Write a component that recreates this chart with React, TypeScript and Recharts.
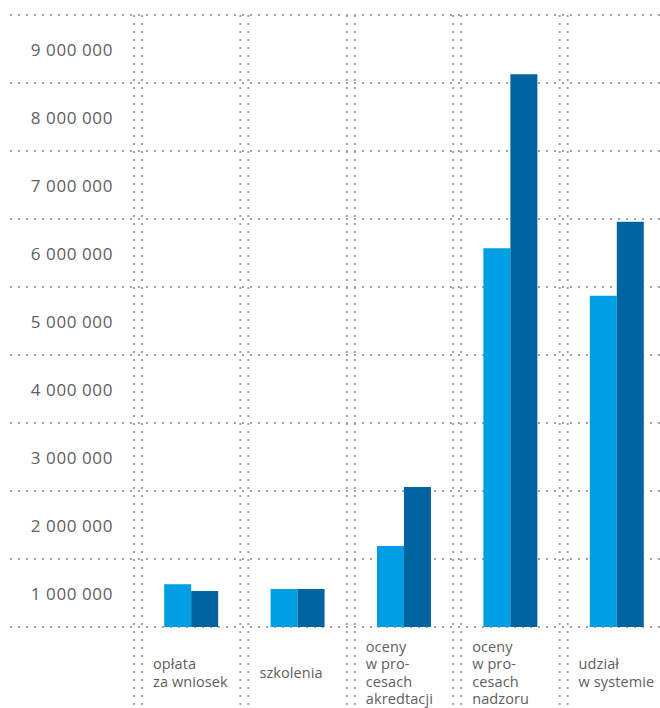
import React from "react";
import { BarChart, Bar, XAxis, YAxis, CartesianGrid } from "recharts";

// categories (line breaks as in the original labels)
const categories = [
  "opłata\nza wniosek",
  "szkolenia",
  "oceny\nw pro-\ncesach\nakredtacji",
  "oceny\nw pro-\ncesach\nnadzoru",
  "udział\nw systemie",
];
const lightValues = [630000, 560000, 1190000, 5570000, 4870000];
const darkValues = [530000, 560000, 2060000, 8130000, 5960000];
const yTicks = [0, 1000000, 2000000, 3000000, 4000000, 5000000, 6000000, 7000000, 8000000, 9000000];

const data = categories.map((name, i) => ({ name, light: lightValues[i], dark: darkValues[i] }));

const W = 670;
const H = 708;
const TOP = 15;
const LEFT = 138;
const BOTTOM = 81;
const PLOT_H = H - TOP - BOTTOM;
const BAND = (W - LEFT) / categories.length;
const GRID = "#a3a3a3";
const TEXT = "#606060";
const FONT = "'Open Sans', sans-serif";

const fmt = (v: number) => String(v).replace(/\B(?=(\d{3})+(?!\d))/g, " ");

const dotted = { stroke: GRID, strokeWidth: 2, strokeDasharray: "2 6" };

function YTick(props: any) {
  const { y, payload } = props;
  return (
    <g>
      <line x1={10} x2={134} y1={y} y2={y} {...dotted} />
      {payload.value > 0 && (
        <text
          x={113}
          y={y + PLOT_H / 18}
          textAnchor="end"
          dominantBaseline="central"
          fill={TEXT}
          fontSize={17}
          fontFamily={FONT}
          letterSpacing={0.6}
        >
          {fmt(payload.value)}
        </text>
      )}
    </g>
  );
}

function XTick(props: any) {
  const { x, payload } = props;
  const left = x - BAND / 2;
  const lines = String(payload.value).split("\n");
  return (
    <g>
      {[-4, 4].map((d) => (
        <line key={d} x1={left + d} x2={left + d} y1={TOP} y2={H} {...dotted} />
      ))}
      <text fill={TEXT} fontSize={14.5} fontFamily={FONT} letterSpacing={0.1}>
        {lines.map((l, i) => (
          <tspan key={i} x={left + 15} y={678 + (i - (lines.length - 1) / 2) * 17.5}>
            {l}
          </tspan>
        ))}
      </text>
    </g>
  );
}

export default function App() {
  return (
    <div style={{ position: "absolute", left: 0, top: 0, width: 660, height: 708, overflow: "hidden", background: "#fff" }}>
      <BarChart
        width={W}
        height={H}
        data={data}
        margin={{ top: TOP, right: 0, left: 0, bottom: 0 }}
        barGap={0}
        barCategoryGap="24.6%"
      >
        <CartesianGrid vertical={false} {...dotted} />
        <XAxis
          dataKey="name"
          height={BOTTOM}
          axisLine={false}
          tickLine={false}
          interval={0}
          tick={<XTick />}
        />
        <YAxis
          width={LEFT}
          domain={[0, 9000000]}
          ticks={yTicks}
          interval={0}
          axisLine={false}
          tickLine={false}
          tick={<YTick />}
        />
        <Bar dataKey="light" fill="#009fe3" isAnimationActive={false} />
        <Bar dataKey="dark" fill="#0064a0" isAnimationActive={false} />
      </BarChart>
    </div>
  );
}
